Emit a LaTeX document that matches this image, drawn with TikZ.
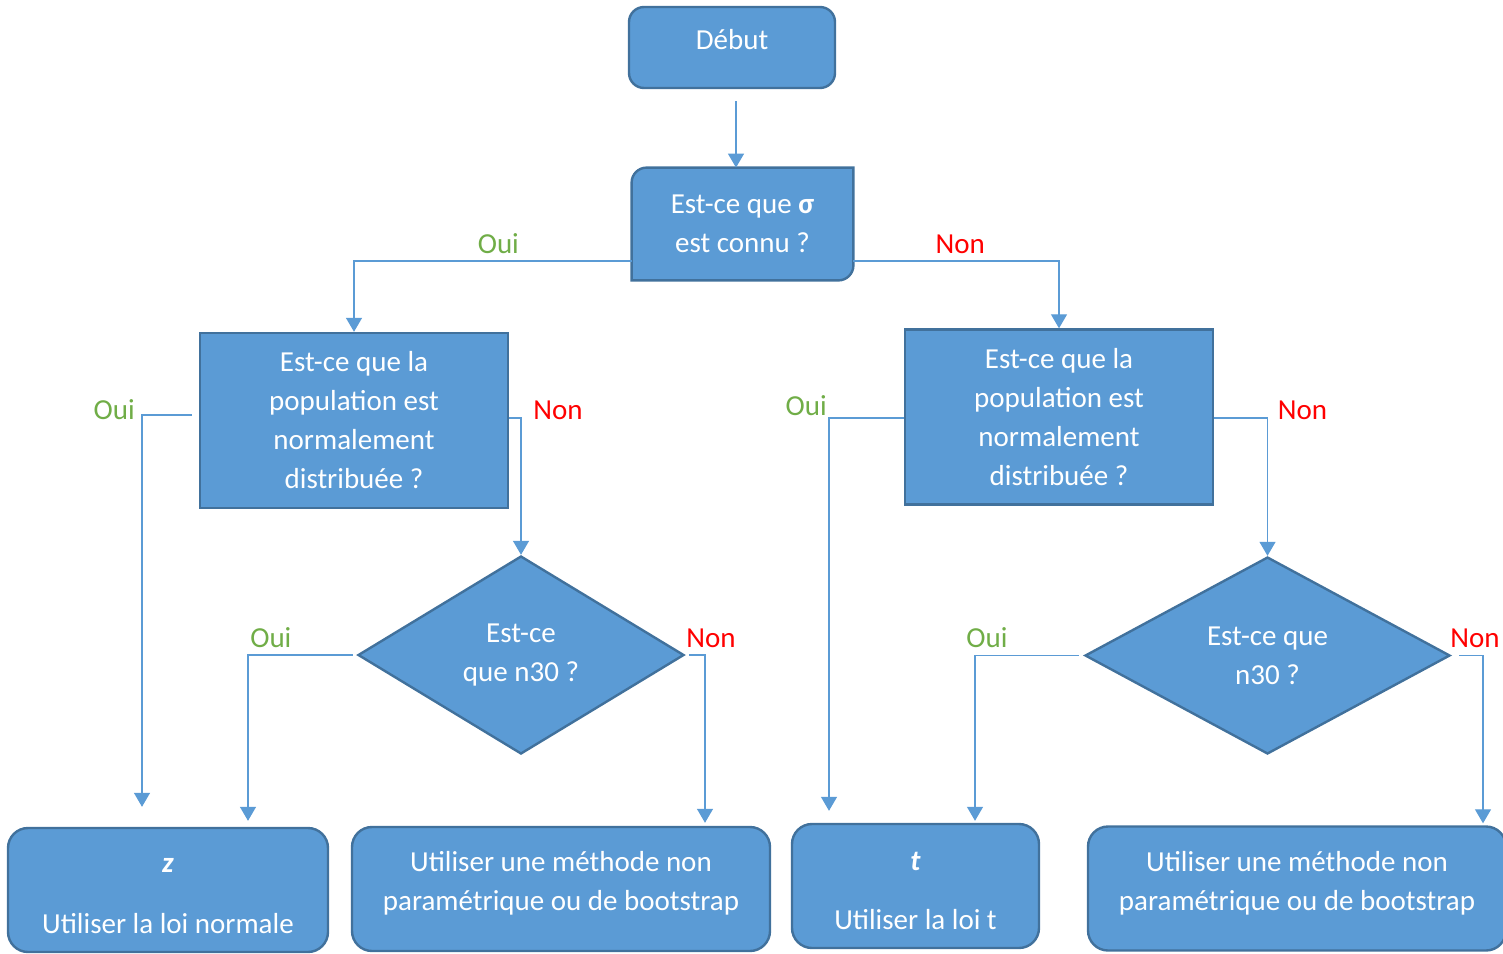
\documentclass[tikz,border=0pt]{standalone}
\usepackage{fontspec}
\setmainfont{Carlito}
\usetikzlibrary{arrows.meta,shapes.geometric,positioning,backgrounds}
\definecolor{boxfill}{HTML}{5B9BD5}
\definecolor{boxedge}{HTML}{41719C}
\definecolor{ouicol}{HTML}{70AD47}
\definecolor{noncol}{HTML}{FF0000}

\begin{document}
\begin{tikzpicture}[x=0.5pt,y=-0.5pt,>={Triangle[width=8pt,length=7pt]},
    font=\fontsize{14.5}{19.5}\selectfont,
    base/.style={fill=boxfill,draw=boxedge,line width=1.2pt,text=white,align=center,inner sep=0pt},
    startbox/.style={base,rounded corners=7.5pt,minimum width=103pt,minimum height=40.5pt},
    ask/.style={base,rectangle,minimum width=154pt,minimum height=87.5pt},
    sigmabox/.style={text=white,align=center,inner sep=0pt,minimum width=110.5pt,minimum height=56pt},
    test/.style={base,diamond,aspect=1.65},
    endbox/.style={base,rounded corners=10pt,minimum height=62pt},
    endtext/.style={text=white,align=center},
    link/.style={->,draw=boxfill,line width=0.65pt},
    yes/.style={text=ouicol},
    no/.style={text=noncol}]

    \useasboundingbox (0,0) rectangle (1503,953);
    \clip (0,0) rectangle (1503,953);

    \node[startbox,text height=8pt,text depth=5.6pt] (debut) at (732,47.5) {Début};

    \node[sigmabox] (sigma) at (742.5,224) {Est-ce que \textbf{σ}\\est connu ?};
    \begin{scope}[on background layer]
        \draw[fill=boxfill,draw=boxedge,line width=1.2pt]
            ([yshift=-7.5pt]sigma.north west) arc (180:90:7.5pt) -- (sigma.north east)
            -- ([yshift=7.5pt]sigma.south east) arc (0:-90:7.5pt) -- (sigma.south west) -- cycle;
    \end{scope}

    \node[ask] (popL) at (354,420.5) {Est-ce que la\\population est\\normalement\\distribuée ?};
    \node[ask] (popR) at (1059,417) {Est-ce que la\\population est\\normalement\\distribuée ?};

    \node[test,minimum width=163pt,minimum height=99pt] (nL) at (521,655) {Est-ce\\que n30 ?};
    \node[test,minimum width=182.5pt,minimum height=98.5pt] (nR) at (1267.5,655.5) {Est-ce que\\n30 ?};

    \node[endbox,minimum width=160pt,
          label={[endtext,yshift=-3pt,name=zboxtxt]center:\textbf{\textit{z}}\\[11pt]Utiliser la loi normale}] (zbox) at (168,890) {};
    \node[endbox,minimum width=209pt,
          label={[endtext,yshift=2.75pt,name=npLtxt]center:Utiliser une méthode non\\paramétrique ou de bootstrap}] (npL) at (561,889) {};
    \node[endbox,minimum width=123.5pt,
          label={[endtext,yshift=-2.5pt,name=tboxtxt]center:\textbf{\textit{t}}\\[10pt]Utiliser la loi t}] (tbox) at (915.5,886) {};
    \node[endbox,minimum width=209pt,
          label={[endtext,yshift=2.75pt,name=npRtxt]center:Utiliser une méthode non\\paramétrique ou de bootstrap}] (npR) at (1297,888.5) {};

    % connectors
    \draw[link,shorten <=6pt] ([xshift=2pt]debut.south) -- ([xshift=2pt]debut.south |- sigma.north);
    \draw[link] ([yshift=-18.5pt]sigma.west) -| node[yes,above,pos=.24] (ouiA) {Oui} (popL.north);
    \draw[link] ([yshift=-18.5pt]sigma.east) -| node[no,above,pos=.26] (nonA) {Non} (popR.north);

    \draw[link,shorten <=3.5pt,shorten >=10pt] ([yshift=2.75pt]popL.west)
        -| node[yes,left,pos=.5,yshift=2.5pt] (ouiB) {Oui} ([xshift=-13pt]zbox.north);
    \draw[link] ([yshift=1.25pt]popL.east) -| node[no,right,pos=.5,yshift=4pt,xshift=2.5pt] (nonB) {Non} (nL.north);
    \draw[link,shorten >=6pt] ([yshift=-0.5pt]popR.west)
        -| node[yes,left,pos=.5,yshift=6pt,xshift=2.5pt] (ouiC) {Oui} ([xshift=-43.25pt]tbox.north);
    \draw[link] ([yshift=-0.5pt]popR.east) -| node[no,right,pos=.5,yshift=4pt,xshift=1.5pt] (nonC) {Non} (nR.north);

    \draw[link,shorten <=2pt,shorten >=3pt] (nL.west)
        -| node[yes,above right,pos=.5,xshift=-2.5pt] (ouiD) {Oui} ([xshift=40pt]zbox.north);
    \draw[link,shorten <=2pt,shorten >=1.5pt] (nL.east)
        -| node[no,above,pos=.5,xshift=3pt] (nonD) {Non} ([xshift=72pt]npL.north);
    \draw[link,shorten <=2.5pt,shorten >=1pt] (nR.west)
        -| node[yes,above,pos=.5,xshift=6pt] (ouiE) {Oui} ([xshift=29.75pt]tbox.north);
    \draw[link,shorten <=4pt,shorten >=1pt] (nR.east)
        -| node[no,above,pos=.5,xshift=-4pt] (nonE) {Non} ([xshift=93pt]npR.north);

\end{tikzpicture}
\end{document}
